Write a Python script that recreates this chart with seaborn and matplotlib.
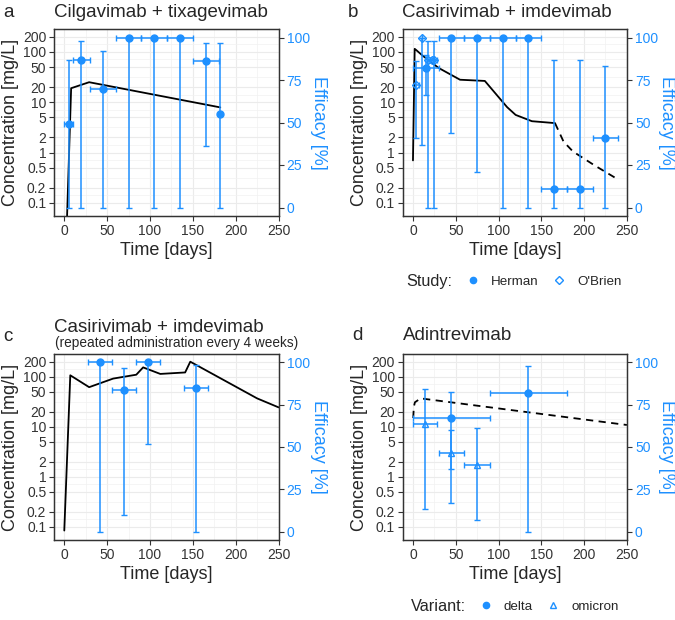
import numpy as np
import matplotlib
matplotlib.use("Agg")
import matplotlib.pyplot as plt
from matplotlib.ticker import FixedLocator, NullFormatter
from matplotlib.lines import Line2D
import seaborn as sns

# ---- data ----
# a: cilgavimab + tixagevimab
a_conc_day = [0, 8, 29, 182]
a_conc = [0.001, 19, 25, 7.9]
a_day = [5, 20, 45, 75, 105, 135, 165, 182]
a_eff = [49, 87, 70, 100, 100, 100, 86, 55]
a_eff_lo = [0, 0, 0, 0, 0, 0, 36, 0]
a_eff_hi = [87, 98, 92, 100, 100, 100, 97, 97]
a_day_lo = [0, 10, 30, 60, 90, 120, 150, 182]
a_day_hi = [10, 30, 60, 90, 120, 150, 180, 182]

# b: casirivimab + imdevimab
b_conc_day = [0, 2, 4, 11, 30, 55, 84, 110, 120, 139, 166]
b_conc = [0.7, 115, 108, 85, 48, 28, 26.5, 8, 5.6, 4.2, 3.85]
b_dash_day = [166, 176, 187, 212, 240]
b_dash = [3.85, 1.65, 1.05, 0.56, 0.29]
# Herman study
b_h_day = [15, 45, 75, 105, 135, 165, 195, 225]
b_h_eff = [82, 100, 100, 100, 100, 11, 11, 41]
b_h_lo = [66, 44, 21, 0, 0, 0, 0, 0]
b_h_hi = [90, 100, 100, 100, 100, 87, 87, 83]
b_h_day_lo = [0, 30, 60, 90, 120, 150, 180, 210]
b_h_day_hi = [30, 60, 90, 120, 150, 180, 210, 240]
# O'Brien study
b_o_day = [4, 11, 18, 22, 25]
b_o_eff = [72, 100, 87, 87, 87]
b_o_lo = [41, 37, 0, 87, 0]
b_o_hi = [86, 100, 98, 87, 98]
b_o_day_lo = [2, 11, 16, 20, 23]
b_o_day_hi = [7, 11, 20, 24, 28]

# c: casirivimab + imdevimab, every 4 weeks
c_conc_day = [0, 7, 29, 57, 84, 92, 112, 141, 147, 225, 250]
c_conc = [0.085, 107, 62, 92, 110, 154, 114, 122, 200, 37, 24.5]
c_day = [42, 70, 98, 154]
c_eff = [100, 83.5, 100, 85]
c_eff_lo = [0, 10, 52, 0]
c_eff_hi = [100, 97, 100, 98.5]
c_day_lo = [28, 56, 84, 140]
c_day_hi = [56, 84, 112, 168]

# d: adintrevimab
d_conc_day = [0.3, 1, 2.3, 9, 250]
d_conc = [15, 25, 31, 37, 10.9]
d_delta_day = [45, 135]
d_delta_eff = [67, 82]
d_delta_lo = [17, 0]
d_delta_hi = [82.5, 98]
d_delta_day_lo = [0, 90]
d_delta_day_hi = [90, 180]
d_omi_day = [14, 45, 75]
d_omi_eff = [63.5, 46.5, 39.5]
d_omi_lo = [13.5, 37, 7]
d_omi_hi = [84.5, 60, 61]
d_omi_day_lo = [0, 30, 60]
d_omi_day_hi = [28, 60, 90]

conc_ticks = [0.1, 0.2, 0.5, 1, 2, 5, 10, 20, 50, 100, 200]
conc_labels = ["0.1", "0.2", "0.5", "1", "2", "5", "10", "20", "50", "100", "200"]
eff_ticks = [0, 25, 50, 75, 100]
day_ticks = [0, 50, 100, 150, 200, 250]

sns.set_style("ticks")
plt.rcParams['font.family'] = ['Liberation Sans', 'DejaVu Sans']

blue = "#1E90FF"
dark = "#333333"
W, H = 675, 620
fig = plt.figure(figsize=(6.75, 6.2), dpi=100)


def box(left, top, right, bottom):
    return [left / W, 1 - bottom / H, (right - left) / W, (bottom - top) / H]


def make_panel(rect):
    ax = fig.add_axes(rect)
    ax.set_yscale("log")
    ax.set_xlim(-12, 250.5)
    ax.set_ylim(0.055, 285)
    ax.yaxis.set_major_locator(FixedLocator(conc_ticks))
    ax.set_yticklabels(conc_labels)
    minor = np.sqrt(np.array(conc_ticks[:-1]) * np.array(conc_ticks[1:]))
    ax.yaxis.set_minor_locator(FixedLocator(minor))
    ax.yaxis.set_minor_formatter(NullFormatter())
    ax.set_xticks(day_ticks)
    ax.xaxis.set_minor_locator(FixedLocator([25, 75, 125, 175, 225]))
    ax.grid(True, which="major", color="#EBEBEB", lw=0.8)
    ax.grid(True, which="minor", color="#F2F2F2", lw=0.5)
    ax.set_axisbelow(True)
    ax.tick_params(which="minor", length=0)
    ax.tick_params(which="major", length=3.5, width=0.8, color=dark,
                   labelsize=10, labelcolor=dark, pad=2)
    ax.set_xlabel("Time [days]", fontsize=13, labelpad=3)
    ax.set_ylabel("Concentration [mg/L]", fontsize=13, labelpad=3)
    ax2 = ax.twinx()
    ax2.set_ylim(-5, 105)
    ax2.set_yticks(eff_ticks)
    ax2.tick_params(length=3.5, width=0.8, color=dark, labelsize=10,
                    labelcolor=blue, pad=2)
    ax2.set_ylabel("Efficacy [%]", color=blue, fontsize=13, rotation=270,
                   ha="center", va="center")
    ax2.yaxis.set_label_coords(1.175, 0.5)
    for a in (ax, ax2):
        for s in a.spines.values():
            s.set_color(dark)
            s.set_linewidth(0.9)
    return ax, ax2


def eff_points(ax2, day, eff, lo, hi, dlo, dhi, marker="o", filled=True):
    day, eff = np.array(day, float), np.array(eff, float)
    yerr = [eff - np.array(lo), np.array(hi) - eff]
    xerr = [day - np.array(dlo), np.array(dhi) - day]
    ax2.errorbar(day, eff, yerr=yerr, xerr=xerr, fmt=marker, color=blue,
                 mfc=blue if filled else "none", mec=blue, ms=5 if filled else 4.5,
                 mew=1, elinewidth=1.1, capsize=2.5, capthick=1.1)


def conc_line(ax, day, conc, dashed=False):
    ls = (0, (4, 3)) if dashed else "-"
    sns.lineplot(x=day, y=conc, ax=ax, color="black", lw=1.3,
                 linestyle=ls, estimator=None, sort=False)


def panel_text(letter, lx, lbase, title, tx, tbase):
    fig.text(lx / W, 1 - lbase / H, letter, fontsize=13.5, va="baseline")
    fig.text(tx / W, 1 - tbase / H, title, fontsize=13.5, va="baseline")


# a
ax, ax2 = make_panel(box(54, 29, 279, 216))
conc_line(ax, a_conc_day, a_conc)
eff_points(ax2, a_day, a_eff, a_eff_lo, a_eff_hi, a_day_lo, a_day_hi)
panel_text("a", 3, 17, "Cilgavimab + tixagevimab", 54.5, 17)

# b
ax, ax2 = make_panel(box(402.7, 29, 627.3, 216))
conc_line(ax, b_conc_day, b_conc)
conc_line(ax, b_dash_day, b_dash, dashed=True)
eff_points(ax2, b_h_day, b_h_eff, b_h_lo, b_h_hi, b_h_day_lo, b_h_day_hi)
eff_points(ax2, b_o_day, b_o_eff, b_o_lo, b_o_hi, b_o_day_lo, b_o_day_hi,
           marker="D", filled=False)
panel_text("b", 348, 17, "Casirivimab + imdevimab", 401.5, 17)

# c
ax, ax2 = make_panel(box(54, 354, 279, 540))
conc_line(ax, c_conc_day, c_conc)
eff_points(ax2, c_day, c_eff, c_eff_lo, c_eff_hi, c_day_lo, c_day_hi)
panel_text("c", 3, 341, "Casirivimab + imdevimab", 54.5, 332.5)
fig.text(55 / W, 1 - 346.7 / H, "(repeated administration every 4 weeks)",
         fontsize=9.8, va="baseline")

# d
ax, ax2 = make_panel(box(402.7, 354, 627.3, 540))
conc_line(ax, d_conc_day, d_conc, dashed=True)
eff_points(ax2, d_delta_day, d_delta_eff, d_delta_lo, d_delta_hi,
           d_delta_day_lo, d_delta_day_hi)
eff_points(ax2, d_omi_day, d_omi_eff, d_omi_lo, d_omi_hi,
           d_omi_day_lo, d_omi_day_hi, marker="^", filled=False)
panel_text("d", 352, 340.5, "Adintrevimab", 403, 340.5)

# legends under b and d
fig.text(406.7 / W, 1 - 281.7 / H, "Study:", fontsize=11.7, va="center")
h_study = [Line2D([], [], ls="none", marker="o", color=blue, ms=4.5),
           Line2D([], [], ls="none", marker="D", mfc="none", mec=blue, ms=4)]
fig.legend(h_study, ["Herman", "O'Brien"], loc="center left",
           bbox_to_anchor=(463 / W, 1 - 281.7 / H), ncol=2, frameon=False,
           fontsize=9.6, handlelength=1.5, handletextpad=0.6,
           columnspacing=0.8, borderpad=0, borderaxespad=0)

fig.text(411 / W, 1 - 606.7 / H, "Variant:", fontsize=11.7, va="center")
h_var = [Line2D([], [], ls="none", marker="o", color=blue, ms=4.5),
         Line2D([], [], ls="none", marker="^", mfc="none", mec=blue, ms=4.5)]
fig.legend(h_var, ["delta", "omicron"], loc="center left",
           bbox_to_anchor=(475.5 / W, 1 - 606.7 / H), ncol=2, frameon=False,
           fontsize=9.6, handlelength=1.5, handletextpad=0.6,
           columnspacing=0.8, borderpad=0, borderaxespad=0)

fig.savefig("out.png", dpi=100)
